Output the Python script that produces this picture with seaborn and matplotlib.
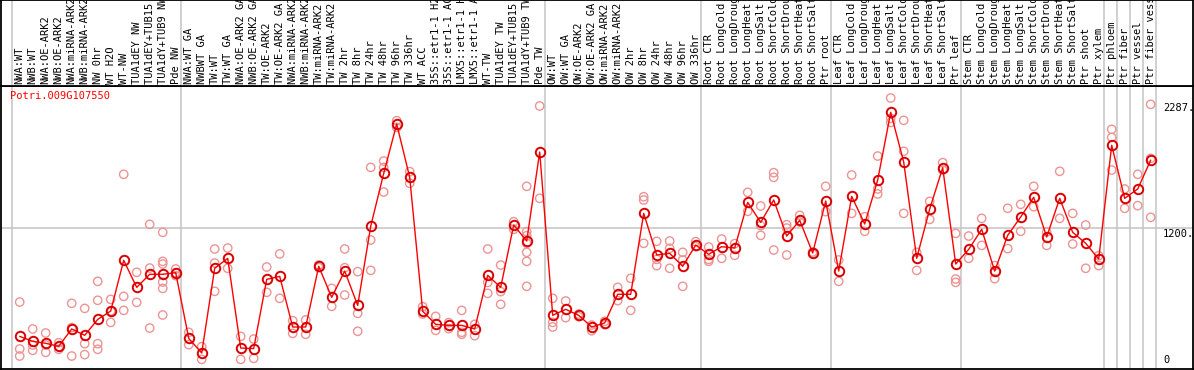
import numpy as np
import pandas as pd
import seaborn as sns
import matplotlib.pyplot as plt
import matplotlib.transforms as mtransforms

gene = "Potri.009G107550"

samples = [
    "NWA:WT", "NWB:WT", "NWA:OE-ARK2", "NWB:OE-ARK2", "NWA:miRNA-ARK2", "NWB:miRNA-ARK2",
    "NW 0hr", "WT H2O", "WT-NW", "TUA1dEY NW", "TUA1dEY+TUB15 NW", "TUA1dY+TUB9 NW", "Pde NW",
    "NWA:WT GA", "NWBWT GA", "TW:WT", "TW:WT GA", "NWA:OE-ARK2 GA", "NWB:OE-ARK2 GA",
    "TW:OE-ARK2", "TW:OE-ARK2 GA", "NWA:miRNA-ARK2 GA", "NWB:miRNA-ARK2 GA", "TW:miRNA-ARK2",
    "TW:miRNA-ARK2 GA", "TW 2hr", "TW 8hr", "TW 24hr", "TW 48hr", "TW 96hr", "TW 336hr",
    "WT ACC", "35S::etr1-1 H2O", "35S::etr1-1 ACC", "LMX5::etr1-1 H2O", "LMX5::etr1-1 ACC",
    "WT-TW", "TUA1dEY TW", "TUA1dEY+TUB15 TW", "TUA1dY+TUB9 TW", "Pde TW",
    "OW:WT", "OW:WT GA", "OW:OE-ARK2", "OW:OE-ARK2 GA", "OW:miRNA-ARK2", "OW:miRNA-ARK2 GA",
    "OW 2hr", "OW 8hr", "OW 24hr", "OW 48hr", "OW 96hr", "OW 336hr",
    "Root CTR", "Root LongCold", "Root LongDrought", "Root LongHeat", "Root LongSalt",
    "Root ShortCold", "Root ShortDrought", "Root ShortHeat", "Root ShortSalt", "Ptr root",
    "Leaf CTR", "Leaf LongCold", "Leaf LongDrought", "Leaf LongHeat", "Leaf LongSalt",
    "Leaf ShortCold", "Leaf ShortDrought", "Leaf ShortHeat", "Leaf ShortSalt", "Ptr leaf",
    "Stem CTR", "Stem LongCold", "Stem LongDrought", "Stem LongHeat", "Stem LongSalt",
    "Stem ShortCold", "Stem ShortDrought", "Stem ShortHeat", "Stem ShortSalt", "Ptr shoot",
    "Ptr xylem", "Ptr phloem", "Ptr fiber", "Ptr vessel", "Ptr fiber vessel",
]

means = [
    265, 222, 205, 179, 329, 274, 412, 484, 923, 689, 802, 802, 816,
    248, 121, 854, 940, 164, 159, 758, 784, 346, 346, 871, 603, 830, 533, 1217, 1675,
    2102, 1641, 482, 369, 360, 360, 329, 793, 689, 1228, 1090, 1860,
    447, 499, 447, 346, 381, 629, 629, 1329, 969, 983, 871, 1055,
    975, 1041, 1029, 1424, 1251, 1445, 1133, 1269, 986, 1436,
    830, 1476, 1237, 1618, 2203, 1773, 940, 1367, 1724, 891,
    1018, 1191, 830, 1139, 1298, 1468, 1125, 1459, 1165, 1070,
    934, 1918, 1459, 1540, 1790,
]

replicates = [
    [562, 156, 95], [329, 190, 144], [294, 190, 127], [210, 153, 176], [551, 95, 341],
    [507, 202, 107], [741, 577, 202, 153], [585, 484, 386], [1667, 611, 490], [819, 559],
    [1234, 856, 337], [1165, 914, 891, 735, 680, 450], [848, 816, 790],
    [300, 193], [176, 66], [1021, 900, 655], [1029, 854], [265, 66], [242, 75],
    [865, 646], [978, 594], [401, 291], [407, 283], [882, 860], [680, 525],
    [1021, 859, 623], [825, 464, 309], [1727, 1099, 836], [1782, 1727, 1514],
    [2131, 2073], [1690, 1589], [522, 458], [438, 317], [384, 332], [490, 300, 283],
    [369, 271], [1021, 732, 637], [882, 652, 542], [1257, 1191],
    [1563, 1171, 1136, 1070, 992, 914, 698], [2258, 1459],
    [594, 386, 346], [571, 427], [458, 435], [363, 314], [395, 366], [689, 574],
    [767, 490], [1473, 1445, 1070], [1087, 931, 877], [1090, 1027, 854],
    [992, 926, 698], [1084, 1041],
    [1038, 931, 914], [1107, 940], [1067, 966], [1511, 1347], [1393, 1223, 1139],
    [1681, 1641, 1012], [1231, 1202, 969], [1312, 1254], [995, 978], [1563, 1344],
    [926, 741], [1661, 1329], [1300, 1174], [1825, 1540, 1497], [2327, 2151, 2116],
    [2134, 1866, 1329], [992, 836], [1433, 1277], [1768, 1704], [1156, 761, 732],
    [1133, 940], [1286, 1052], [877, 764], [1373, 1024], [1407, 1174], [1563, 1387],
    [1168, 1052], [1693, 1286], [1329, 1064], [1228, 854],
    [963, 877], [2056, 1986, 1704], [1540, 1373], [1667, 1396], [2272, 1805, 1295],
]

# last sample index of each block (a grey separator follows it)
group_ends = [-1, 12, 40, 52, 62, 72, 83, 84, 85, 86, 87]
ytick_vals = [2287, 1200, 0]

idx = np.arange(len(samples))
df_mean = pd.DataFrame({"idx": idx, "value": means})
df_rep = pd.DataFrame([(i, v) for i, vals in enumerate(replicates) for v in vals],
                      columns=["idx", "value"])

sns.set_style("white")
plt.rcParams["font.family"] = ["DejaVu Sans Mono"]

W, H = 1194, 370
fig = plt.figure(figsize=(W / 100, H / 100), dpi=100)
ax = fig.add_axes([1 / W, 1 / H, 1192 / W, 283 / H])
ax_lab = fig.add_axes([1 / W, 284 / H, 1192 / W, 86 / H], sharex=ax)

grid_c = "#c4c4c4"
for g in group_ends:
    ax.axvline(g + 0.38, color=grid_c, lw=1.1, zorder=0)
    ax_lab.axvline(g + 0.38, color=grid_c, lw=1.1, zorder=0)
ax.axhline(1200, color=grid_c, lw=1.1, zorder=0)

sns.scatterplot(data=df_rep, x="idx", y="value", ax=ax, marker="o", s=36,
                facecolor="none", edgecolor="#ec9494", linewidth=1.0, zorder=2)
sns.lineplot(data=df_mean, x="idx", y="value", ax=ax, color="red", lw=1.0,
             marker="o", markersize=6.8, markerfacecolor="none",
             markeredgecolor="#d80000", markeredgewidth=1.4, zorder=3)

ax.set_xlim(-18.7 / 13, (1193 - 19.7) / 13)
ax.set_ylim(-17.3, 2431)
ax.set_xticks([])
ax.set_yticks([])
ax.set_xlabel("")
ax.set_ylabel("")
ax_lab.set_ylim(0, 1)
ax_lab.set_yticks([])
ax_lab.tick_params(bottom=False, labelbottom=False)

for a in (ax, ax_lab):
    for sp in a.spines.values():
        sp.set_visible(True)
        sp.set_color("black")
        sp.set_linewidth(1.3)

for i, s in enumerate(samples):
    ax_lab.text(i, 2 / 86, s, rotation=90, ha="center", va="bottom",
                fontsize=7.5, color="black", clip_on=True)

trans = mtransforms.blended_transform_factory(ax.transAxes, ax.transData)
for v in ytick_vals:
    lbl = "0" if v == 0 else f"{v}."
    ax.text((1163 - 1) / 1192, v + (15 if v == 0 else -5), lbl, transform=trans,
            ha="left", va="bottom" if v == 0 else "top", fontsize=7.5, color="black")

ax.text(9 / 1192, (369 - 91) / 283, gene, transform=ax.transAxes, ha="left",
        va="top", fontsize=7.5, color="red")

fig.savefig("out.png", dpi=100)
